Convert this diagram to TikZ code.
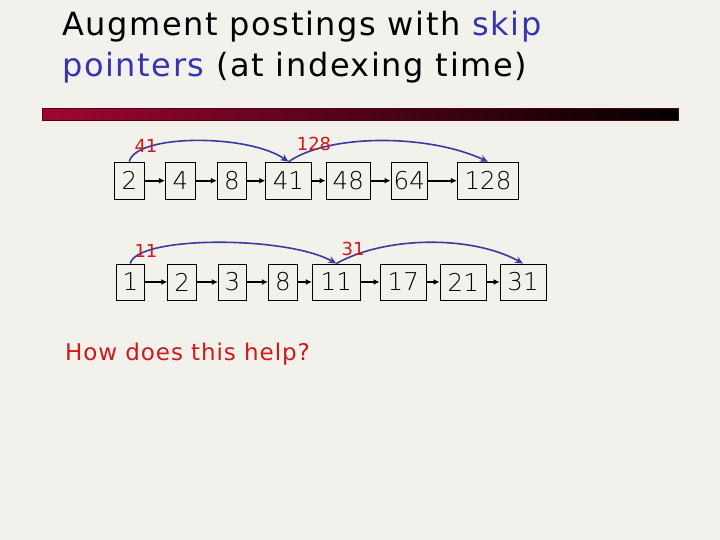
\documentclass[tikz,border=0pt]{standalone}
\usepackage{fontspec}
\setmainfont{DejaVu Sans}
\newfontfamily\numfont{DejaVu Sans ExtraLight}
\newfontfamily\titlefont[LetterSpace=5]{DejaVu Sans}
\newfontfamily\qfont[LetterSpace=4]{DejaVu Sans}
\usetikzlibrary{arrows.meta}
\definecolor{bg}{HTML}{F3F1EB}
\definecolor{barred}{HTML}{A00630}
\definecolor{skipblue}{HTML}{3A3AA0}
\definecolor{titleblue}{HTML}{3535B0}
\definecolor{labred}{HTML}{D01818}
\tikzset{
  pbox/.style={draw=black, line width=0.9pt, minimum height=37pt, inner sep=0pt, font=\numfont\fontsize{24.5}{24.5}\selectfont},
  nxt/.style={line width=1.8pt, -{Latex[length=6pt,width=6pt]}},
  skiparc/.style={draw=skipblue, line width=1.6pt, -{Stealth[length=8pt,width=7pt]}},
  skiplab/.style={text=labred, font=\fontsize{18}{18}\selectfont, inner sep=0pt},
  titletext/.style={anchor=base west, inner sep=0pt, font=\titlefont\fontsize{32}{32}\selectfont},
}
\begin{document}
\begin{tikzpicture}[x=1pt,y=-1pt]
\useasboundingbox[fill=bg] (0,0) rectangle (720,540);
% title
\node[titletext] (t1) at (62,36) {Augment postings with \textcolor{titleblue}{skip}};
\node[titletext] (t2) at (62,77) {\textcolor{titleblue}{pointers} (at indexing time)};
% bar
\draw[draw=barred!50!black, line width=0.8pt, left color=barred, middle color=barred!75!black, right color=black] (42.3,108.3) rectangle (678,120);
% row 1
\node[pbox, minimum width=30pt] (a1) at (129.3,180.7) {2};
\node[pbox, minimum width=30pt] (a2) at (180.3,180.7) {4};
\node[pbox, minimum width=29.4pt] (a3) at (232,180.7) {8};
\node[pbox, minimum width=45.6pt] (a4) at (288.5,180.7) {41};
\node[pbox, minimum width=44.7pt] (a5) at (348.3,180.7) {48};
\node[pbox, minimum width=36.7pt] (a6) at (409.3,180.7) {64};
\node[pbox, minimum width=61.4pt] (a7) at (488,180.7) {128};
\foreach \i/\j in {a1/a2,a2/a3,a3/a4,a4/a5,a5/a6,a6/a7} \draw[nxt] (\i) -- (\j);
\draw[skiparc] (a1.north) .. controls +(6,-28) and +(-40,-28) .. (a4.north);
\draw[skiparc] (a4.north) .. controls +(40,-28) and +(-60,-28) .. (a7.north);
\node[skiplab] (l41) at (146,146) {41};
\node[skiplab] (l128) at (314,144) {128};
% row 2
\node[pbox, minimum height=36pt, minimum width=28.7pt] (b1) at (130.3,282) {1};
\node[pbox, minimum height=36pt, minimum width=29pt] (b2) at (182.2,282) {2};
\node[pbox, minimum height=36pt, minimum width=28.4pt] (b3) at (232.5,282) {3};
\node[pbox, minimum height=36pt, minimum width=29pt] (b4) at (282.8,282) {8};
\node[pbox, minimum height=36pt, minimum width=48pt] (b5) at (336.3,282) {11};
\node[pbox, minimum height=36pt, minimum width=46.7pt] (b6) at (403.3,282) {17};
\node[pbox, minimum height=36pt, minimum width=46.7pt] (b7) at (463.3,282) {21};
\node[pbox, minimum height=36pt, minimum width=46pt] (b8) at (523,282) {31};
\foreach \i/\j in {b1/b2,b2/b3,b3/b4,b4/b5,b5/b6,b6/b7,b7/b8} \draw[nxt] (\i) -- (\j);
\draw[skiparc] (b1.north) .. controls +(6,-28) and +(-50,-28) .. (b5.north);
\draw[skiparc] (b5.north) .. controls +(50,-28) and +(-50,-28) .. (b8.north);
\node[skiplab] (l11) at (146,251) {11};
\node[skiplab] (l31) at (353,249) {31};
% question
\node[anchor=base west, inner sep=0pt, text=labred, font=\qfont\fontsize{23}{23}\selectfont] (q) at (65,360.7) {How does this help?};
\end{tikzpicture}
\end{document}
